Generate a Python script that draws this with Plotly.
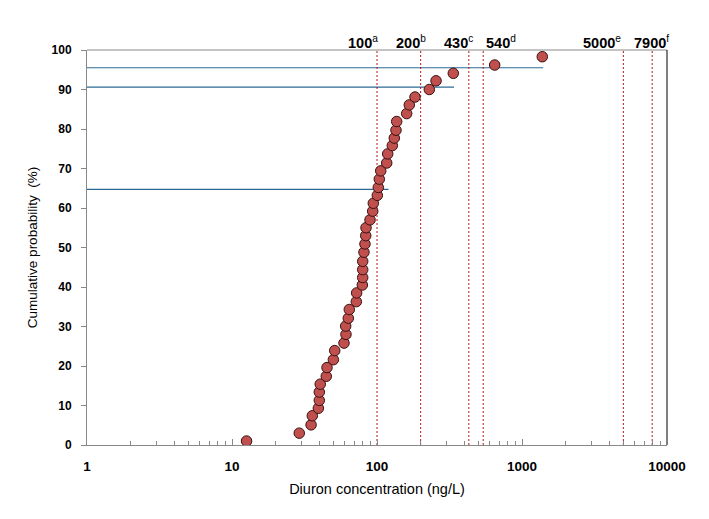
import math
import plotly.graph_objects as go

# Data
conc = [12.6, 29.1, 35.1, 35.8, 39.4, 40.0, 40.0, 40.6, 44.7, 45.2, 50.0, 51.1,
        59.2, 61.1, 60.8, 63.4, 64.4, 72.0, 72.4, 79.2, 79.7, 79.7, 79.7, 81.3,
        82.6, 83.6, 84.0, 89.5, 93.4, 94.3, 100.5, 102.1, 103.7, 106.1, 116.7, 118.5,
        127.5, 131.6, 135.2, 136.7, 160.2, 167.0, 182.9, 229.5, 255.4, 335.9, 648.0, 1380.0]
cum_prob = [1.0, 3.0, 5.1, 7.4, 9.3, 11.3, 13.4, 15.4, 17.4, 19.6, 21.6, 23.9,
            25.8, 28.0, 30.1, 32.1, 34.3, 36.3, 38.5, 40.5, 42.4, 44.4, 46.5, 48.8,
            50.9, 53.0, 55.0, 57.0, 59.2, 61.2, 63.2, 65.2, 67.3, 69.4, 71.4, 73.7,
            75.8, 77.7, 79.7, 81.9, 83.9, 86.1, 88.1, 90.0, 92.2, 94.1, 96.2, 98.3]

thresholds = [100, 200, 430, 540, 5000, 7900]
threshold_labels = ["100", "200", "430", "540", "5000", "7900"]
threshold_sup = ["a", "b", "c", "d", "e", "f"]

hline_levels = [95.5, 90.6, 64.7]
hline_ends = [1400, 340, 120]

x_tick_vals = [1, 10, 100, 1000, 10000]
x_tick_text = ["1", "10", "100", "1000", "10000"]
y_tick_vals = [0, 10, 20, 30, 40, 50, 60, 70, 80, 90, 100]

# label pixel offsets (style only)
label_shift = [-14, -10, -10, 18, -21, -1]

fig = go.Figure()

for lvl, end in zip(hline_levels, hline_ends):
    fig.add_trace(go.Scatter(x=[1, end], y=[lvl, lvl], mode="lines",
                             line=dict(color="#2B6A94", width=1.2),
                             showlegend=False, hoverinfo="skip"))

for t in thresholds:
    fig.add_trace(go.Scatter(x=[t, t], y=[0, 100], mode="lines",
                             line=dict(color="#B01818", width=1, dash="2px,2px"),
                             showlegend=False, hoverinfo="skip"))

fig.add_trace(go.Scatter(x=conc, y=cum_prob, mode="markers",
                         marker=dict(size=10.5, color="#C0504D",
                                     line=dict(color="#3A1010", width=1)),
                         showlegend=False))

for t, lab, sup, sh in zip(thresholds, threshold_labels, threshold_sup, label_shift):
    fig.add_annotation(x=math.log10(t), xref="x", y=100, yref="y",
                       text=f"<b>{lab}</b><sup>{sup}</sup>",
                       showarrow=False, xanchor="center", yanchor="bottom",
                       xshift=sh, yshift=-3,
                       font=dict(family="Liberation Sans, Arial", size=14.5, color="black"))

minor_vals = [m * 10 ** d for d in range(4) for m in range(2, 10)]

fig.update_xaxes(type="log", range=[0, 4],
                 tickmode="array", tickvals=x_tick_vals, ticktext=x_tick_text,
                 ticks="inside", ticklen=6, tickcolor="#888888",
                 minor=dict(ticks="inside", ticklen=4, tickcolor="#888888",
                            tickmode="array", tickvals=minor_vals, showgrid=False),
                 showline=True, linecolor="#888888", linewidth=1,
                 showgrid=False, zeroline=False, ticklabelstandoff=9,
                 tickfont=dict(family="Liberation Sans, Arial", size=13.5, color="black", weight="bold"),
                 title=dict(text="Diuron concentration (ng/L)", standoff=10,
                            font=dict(family="Liberation Sans, Arial", size=14.5, color="black")))

fig.update_yaxes(range=[0, 100], tickmode="array", tickvals=y_tick_vals,
                 ticks="outside", ticklen=5, tickcolor="#888888",
                 showline=True, linecolor="#888888", linewidth=1,
                 showgrid=False, zeroline=False, ticklabelstandoff=7,
                 tickfont=dict(family="Liberation Sans, Arial", size=12, color="black", weight="bold"),
                 title=dict(text="Cumulative probability  (%)", standoff=10,
                            font=dict(family="Liberation Sans, Arial", size=13.5, color="black")))

# top border and right border
fig.add_shape(type="line", xref="paper", yref="paper", x0=0, x1=1, y0=1, y1=1,
              line=dict(color="#888888", width=1))
fig.add_shape(type="line", xref="paper", yref="paper", x0=1, x1=1, y0=0, y1=1,
              line=dict(color="black", width=1))

# the page body adds an 8px offset, so the figure is sized to compensate
fig.update_layout(width=701, height=511,
                  margin=dict(l=79, r=42, t=42, b=74),
                  paper_bgcolor="white", plot_bgcolor="white",
                  font=dict(family="Liberation Sans, Arial"))

fig.write_html("out.html")
